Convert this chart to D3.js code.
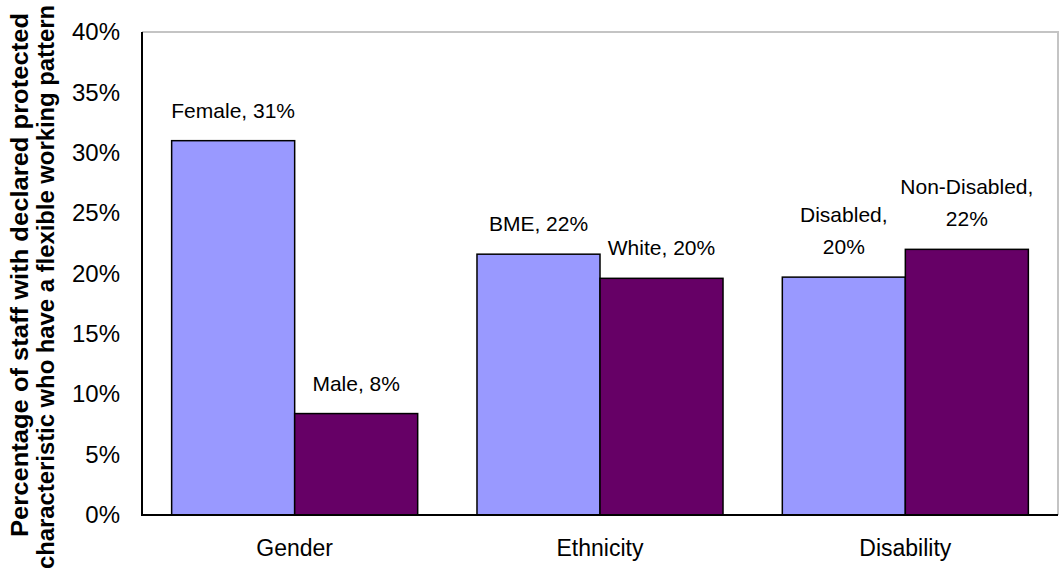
<!DOCTYPE html>
<html>
<head>
<meta charset="utf-8">
<script src="https://cdn.jsdelivr.net/npm/d3@7"></script>
<style>
  html, body { margin: 0; padding: 0; background: #ffffff; }
  svg { display: block; font-family: "Liberation Sans", Arial, sans-serif; }
</style>
</head>
<body>
<svg id="chart" width="1060" height="572"></svg>
<script>
// Share of staff with a flexible working pattern, by protected characteristic
const categories = ["Gender", "Ethnicity", "Disability"];
const firstGroupNames = ["Female", "BME", "Disabled"];
const firstGroupValues = [31.0, 21.6, 19.7];
const secondGroupNames = ["Male", "White", "Non-Disabled"];
const secondGroupValues = [8.4, 19.6, 22.0];
const yTicks = [0, 5, 10, 15, 20, 25, 30, 35, 40];
const yTitleLines = [
  "Percentage of staff with declared protected",
  "characteristic who have a flexible working pattern"
];

const seriesKeys = ["first", "second"];
const seriesColors = { first: "#9999FF", second: "#660066" };

const rows = categories.map((c, i) => ({
  category: c,
  bars: [
    { key: "first", name: firstGroupNames[i], value: firstGroupValues[i] },
    { key: "second", name: secondGroupNames[i], value: secondGroupValues[i] }
  ]
}));

const width = 1060, height = 572;
const margin = { top: 32, right: 2, bottom: 57, left: 142 };
const plotW = width - margin.left - margin.right;
const plotH = height - margin.top - margin.bottom;

const svg = d3.select("#chart");
const g = svg.append("g").attr("transform", `translate(${margin.left},${margin.top})`);

const x0 = d3.scaleBand().domain(categories).range([0, plotW]).padding(0);
const x1 = d3.scaleBand().domain(seriesKeys).range([0, x0.bandwidth()])
  .paddingInner(0).paddingOuter(0.241);
const y = d3.scaleLinear().domain([0, 40]).range([plotH, 0]);

// plot frame: grey top and right edges
g.append("path")
  .attr("d", `M0,0H${plotW}V${plotH}`)
  .attr("fill", "none")
  .attr("stroke", "#c4c4c4")
  .attr("stroke-width", 2);

// bars
const groups = g.selectAll("g.cat").data(rows).join("g")
  .attr("class", "cat")
  .attr("transform", d => `translate(${x0(d.category)},0)`);

groups.selectAll("rect").data(d => d.bars).join("rect")
  .attr("x", d => x1(d.key))
  .attr("y", d => y(d.value))
  .attr("width", x1.bandwidth())
  .attr("height", d => plotH - y(d.value))
  .attr("fill", d => seriesColors[d.key])
  .attr("stroke", "#000")
  .attr("stroke-width", 1.5);

// value labels above bars, wrapped onto two lines when wider than the bar
const lineGap = 32;
groups.each(function(row) {
  const grp = d3.select(this);
  row.bars.forEach(b => {
    const cx = x1(b.key) + x1.bandwidth() / 2;
    const pct = Math.round(b.value) + "%";
    const full = `${b.name}, ${pct}`;
    const t = grp.append("text")
      .attr("x", cx)
      .attr("text-anchor", "middle")
      .attr("font-size", 21)
      .attr("fill", "#000")
      .text(full);
    const base = y(b.value) - 23;
    if (t.node().getComputedTextLength() > x1.bandwidth() + 6) {
      t.text(null);
      t.append("tspan").attr("x", cx).attr("y", base - lineGap).text(b.name + ",");
      t.append("tspan").attr("x", cx).attr("y", base).text(pct);
    } else {
      t.attr("y", base);
    }
  });
});

// y axis
const yAxis = g.append("g")
  .call(d3.axisLeft(y).tickValues(yTicks).tickSize(0).tickPadding(22)
    .tickFormat(d => d + "%"));
yAxis.select(".domain").remove();
yAxis.selectAll("text")
  .attr("font-size", 24)
  .attr("font-family", "Liberation Sans, Arial, sans-serif")
  .attr("fill", "#000");

// x axis
const xAxis = g.append("g")
  .attr("transform", `translate(0,${plotH})`)
  .call(d3.axisBottom(x0).tickSize(0).tickPadding(25));
xAxis.select(".domain").remove();
xAxis.selectAll("text")
  .attr("font-size", 23)
  .attr("font-family", "Liberation Sans, Arial, sans-serif")
  .attr("fill", "#000");

// axis lines (left and bottom)
g.append("path")
  .attr("d", `M0,0V${plotH}H${plotW}`)
  .attr("fill", "none")
  .attr("stroke", "#000")
  .attr("stroke-width", 2);

// y axis title, two lines stretched along the left edge
const yTitleCentres = [275, 287];
const yTitleLengths = [524, 564];
const yTitle = svg.append("text")
  .attr("transform", "rotate(-90)")
  .attr("text-anchor", "middle")
  .attr("font-size", 23)
  .attr("font-weight", "bold")
  .attr("fill", "#000");
yTitleLines.forEach((line, i) => {
  yTitle.append("tspan")
    .attr("x", -yTitleCentres[i])
    .attr("y", 28 + i * 26)
    .attr("textLength", yTitleLengths[i])
    .attr("lengthAdjust", "spacingAndGlyphs")
    .text(line);
});
</script>
</body>
</html>
